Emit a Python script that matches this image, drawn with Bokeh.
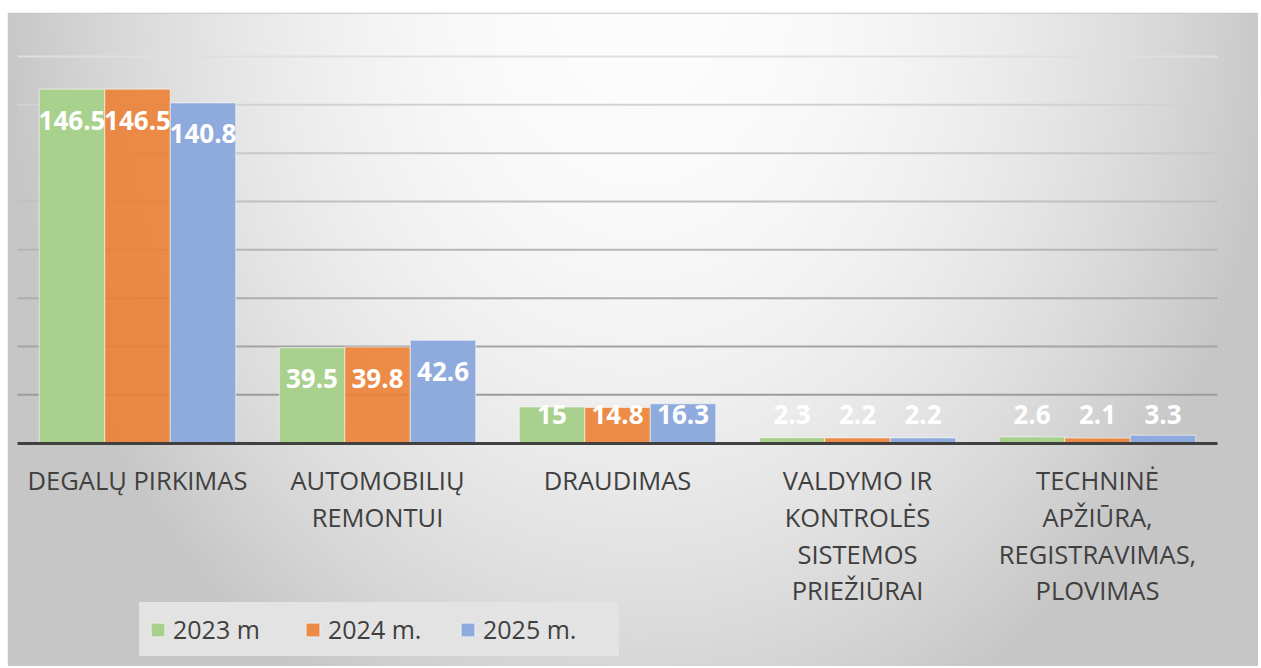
import numpy as np
from bokeh.plotting import figure
from bokeh.models import ColumnDataSource, Range1d, FixedTicker
from bokeh.core.properties import value
from bokeh.embed import file_html
from bokeh.resources import INLINE

# ---------------- data ----------------
categories = [
    "DEGALŲ PIRKIMAS",
    "AUTOMOBILIŲ\nREMONTUI",
    "DRAUDIMAS",
    "VALDYMO IR\nKONTROLĖS\nSISTEMOS\nPRIEŽIŪRAI",
    "TECHNINĖ\nAPŽIŪRA,\nREGISTRAVIMAS,\nPLOVIMAS",
]
series_names = ["2023 m", "2024 m.", "2025 m."]
values_2023 = [146.5, 39.5, 15, 2.3, 2.6]
values_2024 = [146.5, 39.8, 14.8, 2.2, 2.1]
values_2025 = [140.8, 42.6, 16.3, 2.2, 3.3]
grid_values = [20, 40, 60, 80, 100, 120, 140, 160]

# ---------------- styling / layout ----------------
series_values = [values_2023, values_2024, values_2025]
series_colors = ["#a9d18e", "#ed7d31", "#8faadc"]
series_alpha = [1.0, 0.88, 1.0]
grid_colors = ["#9c9c9c", "#a4a4a4", "#adadad", "#b6b6b6", "#bfbfbf", "#c8c8c8", "#d2d2d2", "#dfdfdf"]

W, H = 1258, 666
LEFT, TOP = 8, 13
FW, FH = W - LEFT, H - TOP
PX_X = 240.0          # px per category
X0 = 9.0              # frame px where category axis starts
PX_Y = 2.4167         # px per value unit
Y0 = 429.7            # frame px (from top) of value 0

x_start = -X0 / PX_X
x_end = (FW - X0) / PX_X
y_end = Y0 / PX_Y
y_start = -(FH - Y0) / PX_Y

n = len(categories)
bar_w = 0.273
offsets = [-bar_w, 0.0, bar_w]

p = figure(width=W, height=H, output_backend="svg", toolbar_location=None,
           x_range=Range1d(x_start, x_end), y_range=Range1d(y_start, y_end),
           y_axis_location=None,
           min_border_left=LEFT, min_border_right=0, min_border_top=TOP, min_border_bottom=0)
p.border_fill_color = "white"
p.background_fill_color = "#dcdcdc"
p.outline_line_color = "#c8c8c8"
p.outline_line_width = 1.5
p.xgrid.visible = False
p.ygrid.visible = False

# background gradient (decoration)
sx, sy = 2, 2
iw, ih = FW // sx, FH // sy
gx = (np.arange(iw) + 0.5) * sx + LEFT
gy = (np.arange(ih) + 0.5) * sy + TOP
GX, GY = np.meshgrid(gx, gy)
d = np.sqrt(((GX - 640.0) / 640.0) ** 2 + ((GY - 0.0) / 800.0) ** 2)
d = np.clip(d, 0, 1) ** 2
c = (253.0 - 55.0 * d).astype(np.uint8)
c = c[::-1, :]
img = np.empty((ih, iw), dtype=np.uint32)
view = img.view(dtype=np.uint8).reshape((ih, iw, 4))
view[:, :, 0] = c
view[:, :, 1] = c
view[:, :, 2] = c
view[:, :, 3] = 255
p.image_rgba(image=[img], x=x_start, y=y_start, dw=x_end - x_start, dh=y_end - y_start)

# gridlines
p.segment(x0=[0] * len(grid_values), x1=[n] * len(grid_values), y0=grid_values, y1=grid_values,
          line_color=grid_colors, line_width=2)

# bars
for k, (name, vals) in enumerate(zip(series_names, series_values)):
    xs = [i + 0.5 + offsets[k] for i in range(n)]
    src = ColumnDataSource(dict(x=xs, top=vals,
                                lbl=[f"{v:g}" for v in vals],
                                ly=[max(v - 31.0 / PX_Y, 11.9) for v in vals]))
    p.vbar(x="x", top="top", bottom=0, width=bar_w, source=src,
           fill_color=series_colors[k], fill_alpha=series_alpha[k],
           line_color="white", line_alpha=0.55, line_width=1, legend_label=name)
    p.text(x="x", y="ly", text="lbl", source=src, text_color="white",
           text_font=value("Open Sans"), text_font_style="bold", text_font_size="26px",
           text_align="center", text_baseline="middle")

# category axis
ax = p.xaxis[0]
ax.fixed_location = 0
ax.ticker = FixedTicker(ticks=[i + 0.5 for i in range(n)])
ax.major_label_overrides = {i + 0.5: cat for i, cat in enumerate(categories)}
ax.bounds = (0, n)
ax.axis_line_color = "#404040"
ax.axis_line_width = 3
ax.major_tick_line_color = None
ax.minor_tick_line_color = None
ax.major_label_text_font = "Open Sans"
ax.major_label_text_font_size = "25.5px"
ax.major_label_text_color = "#404040"
ax.major_label_standoff = 14
ax.major_label_text_line_height = 1.08

# legend
lg = p.legend[0]
lg.orientation = "horizontal"
lg.location = (131, 10)
lg.background_fill_color = "#e3e3e3"
lg.background_fill_alpha = 1.0
lg.border_line_color = "#e3e3e3"
lg.border_line_width = 8
lg.padding = 2
lg.spacing = 5
lg.glyph_width = 17
lg.glyph_height = 17
lg.label_standoff = 7
lg.label_width = 126
lg.label_text_font = "Open Sans"
lg.label_text_font_size = "25px"
lg.label_text_color = "#404040"
lg.margin = 0

open("out.html", "w").write(file_html(p, INLINE))
